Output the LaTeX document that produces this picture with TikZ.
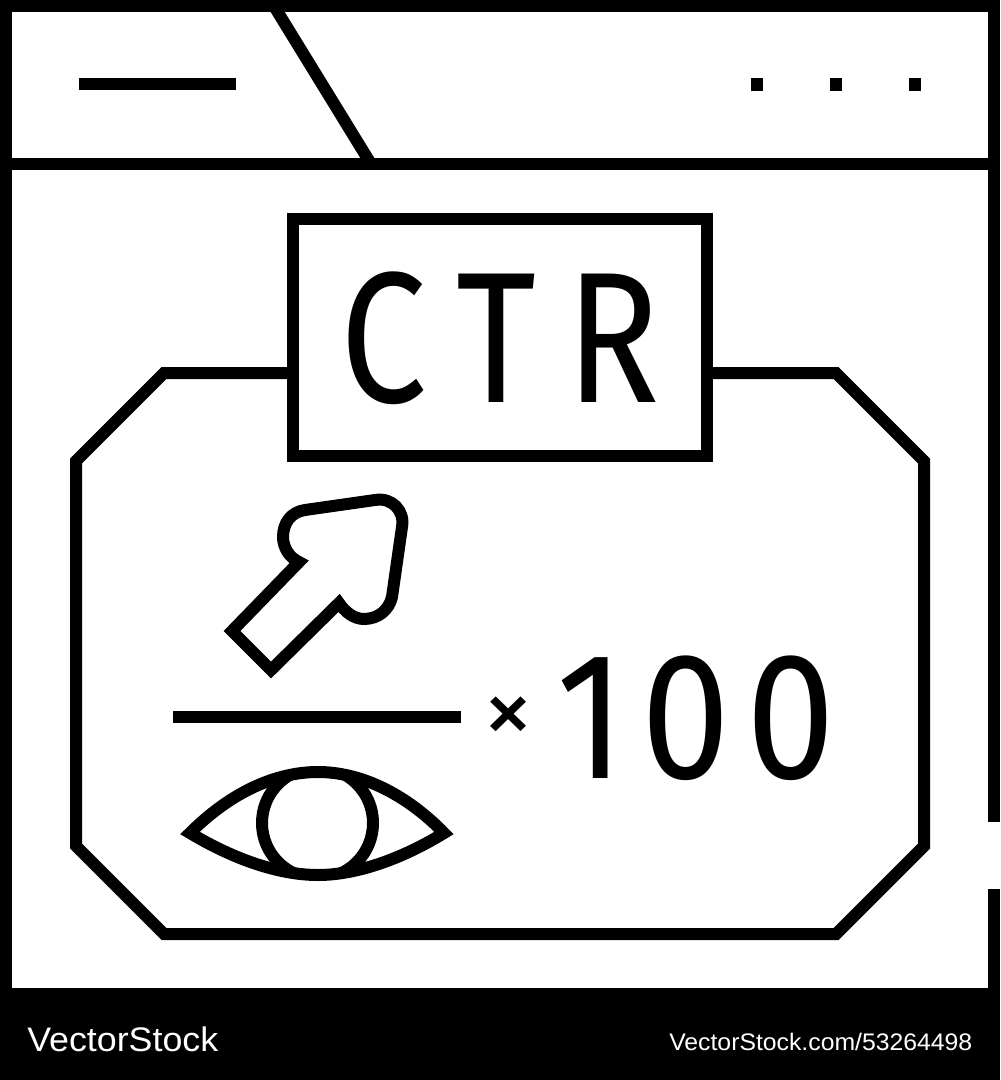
\documentclass[tikz,border=0pt]{standalone}
\usepackage{fontspec}
\usepackage{graphicx}
\setmainfont{Liberation Sans}
\newfontfamily\iconfont{Fira Sans}[LetterSpace=20]
\newfontfamily\numfont{Fira Sans}[LetterSpace=10]
\newfontfamily\crossfont{Liberation Sans Bold}
\tikzset{
  ink/.style={draw=black,line width=9pt,miter limit=10},
  wm/.style={text=white,inner sep=0pt,anchor=base west},
  big/.style={text=black,inner sep=0pt,anchor=base west}
}
\begin{document}
\begin{tikzpicture}[x=0.75pt,y=-0.75pt]
\useasboundingbox (0,0) rectangle (1000,1080);
\fill[black] (0,0) rectangle (1000,1080);
\fill[white] (12,12) rectangle (988,988);
\fill[white] (980,822) rectangle (1000,889);
% header
\begin{scope}
\clip (12,12) rectangle (988,170);
\draw[ink] (12,164) -- (988,164);
\draw[ink] (274,6) -- (371,164);
\end{scope}
\draw[ink] (79,84.5) -- (236,84.5);
\foreach \dotx in {757,836,915}{\fill[black] (\dotx-6,78) rectangle (\dotx+6,91);}
% octagon
\draw[ink] (293,373) -- (164,373) -- (76,461) -- (76,846) -- (164,934) -- (836,934) -- (924,846) -- (924,461) -- (836,373) -- (707,373);
\draw[ink] (293,219) rectangle (707,456);
\node[big] (ctr) at (340,402) {\resizebox{240pt}{98pt}{\iconfont CTR}};
% arrow
\draw[ink] (232,631) -- (271,670) -- (339,603)
  .. controls (345,612) and (354,619) .. (364,619)
  .. controls (378,619) and (389,610) .. (392,597)
  -- (402,527)
  .. controls (405,511) and (392,497) .. (375,500)
  -- (305,510)
  .. controls (291,512) and (283,523) .. (283,537)
  .. controls (283,548) and (290,558) .. (299,562)
  -- cycle;
% fraction
\draw[ink] (173,717) -- (461,717);
% eye
\begin{scope}
\clip (190,833) .. controls (230,793) and (275,772) .. (318,772) .. controls (360,772) and (405,793) .. (444,833)
  .. controls (400,860) and (355,875) .. (318,875) .. controls (280,875) and (235,860) .. (190,833) -- cycle;
\draw[ink] (317.5,823) circle[radius=55.5*0.75pt];
\end{scope}
\draw[ink] (190,833) .. controls (230,793) and (275,772) .. (318,772) .. controls (360,772) and (405,793) .. (444,833)
  .. controls (400,860) and (355,875) .. (318,875) .. controls (280,875) and (235,860) .. (190,833) -- cycle;
% formula
\node[big] (times) at (487.5,737) {\resizebox{31.5pt}{30.5pt}{\crossfont ×}};
\node[big] (hundred) at (556,778) {\resizebox{209pt}{92pt}{\numfont 100}};
% watermark
\node[wm] (brand) at (27,1051) {\resizebox{143.25pt}{18.5pt}{VectorStock}};
\node[wm] (url) at (669,1050) {\resizebox{227.25pt}{13pt}{VectorStock.com/53264498}};
\end{tikzpicture}
\end{document}
